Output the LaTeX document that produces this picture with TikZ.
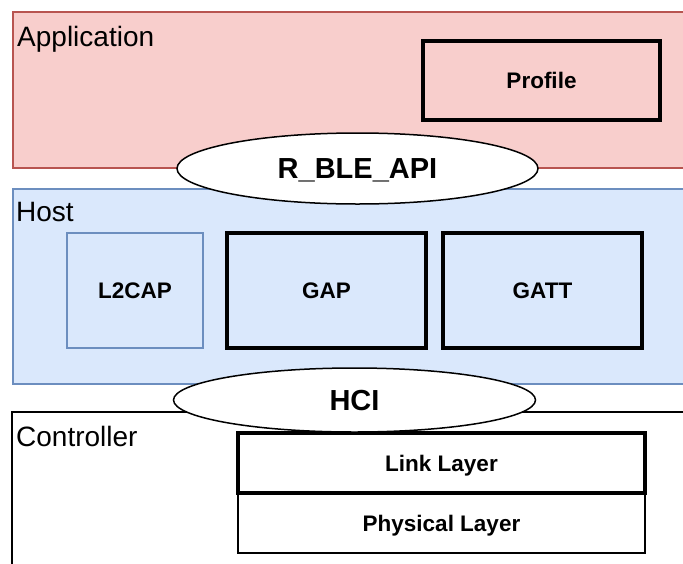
\documentclass[tikz,border=0pt]{standalone}
\usepackage{fontspec}
\setmainfont{Liberation Sans}
\usetikzlibrary{shapes.geometric}
\definecolor{appfill}{HTML}{F8CECC}
\definecolor{appline}{HTML}{B85450}
\definecolor{hostfill}{HTML}{DAE8FC}
\definecolor{hostline}{HTML}{6C8EBF}
\begin{document}
\begin{tikzpicture}[x=1pt,y=-1pt,
  layerbox/.style={rectangle, draw, line width=1.5pt, inner sep=0pt, outer sep=0pt, anchor=north west},
  blockbase/.style={rectangle, inner sep=0pt, outer sep=0pt, anchor=north west,
    font=\fontsize{22.5}{24}\selectfont\bfseries, text height=16pt, text depth=0pt},
  thickbox/.style={blockbase, draw=black, line width=3.5pt},
  thinbox/.style={blockbase, line width=1.5pt},
  iface/.style={ellipse, draw=black, fill=white, line width=1.5pt, inner sep=0pt, outer sep=0pt,
    font=\fontsize{29}{31}\selectfont\bfseries, text height=20.8pt, text depth=0pt},
  layername/.style={anchor=base west, inner sep=0pt, font=\fontsize{28}{30}\selectfont}
]
\useasboundingbox (0,0) rectangle (683,563);
\begin{scope}
  \clip (0,0) rectangle (683,563);
  \node[layerbox, fill=appfill, draw=appline, minimum width=690pt, minimum height=156pt] (app) at (13,12) {};
  \node[layerbox, fill=hostfill, draw=hostline, minimum width=690pt, minimum height=195pt] (host) at (13,189) {};
  \node[layerbox, fill=white, draw=black, minimum width=690pt, minimum height=170pt] (ctrl) at (12,412) {};
\end{scope}
% application layer
\node[thickbox, minimum width=237pt, minimum height=79pt] (profile) at (423,41) {Profile};
% host layer
\node[thinbox, draw=hostline, minimum width=136pt, minimum height=115pt] (l2cap) at (67,233) {L2CAP};
\node[thickbox, minimum width=199pt, minimum height=115pt] (gap) at (227,233) {GAP};
\node[thickbox, minimum width=199pt, minimum height=115pt] (gatt) at (443,233) {GATT};
% controller layer
\node[thinbox, draw=black, minimum width=407pt, minimum height=60pt] (phy) at (238,493) {Physical Layer};
\node[thickbox, minimum width=407pt, minimum height=60pt] (link) at (238,433) {Link Layer};
% interfaces
\node[iface, minimum width=361pt, minimum height=71pt] (rble) at (357.5,168.5) {R\_BLE\_API};
\node[iface, minimum width=362pt, minimum height=64pt] (hci) at (354.5,400) {HCI};
% layer names
\node[layername] (appname) at (17,46) {Application};
\node[layername] (hostname) at (16,221) {Host};
\node[layername] (ctrlname) at (16,446) {Controller};
\end{tikzpicture}
\end{document}
